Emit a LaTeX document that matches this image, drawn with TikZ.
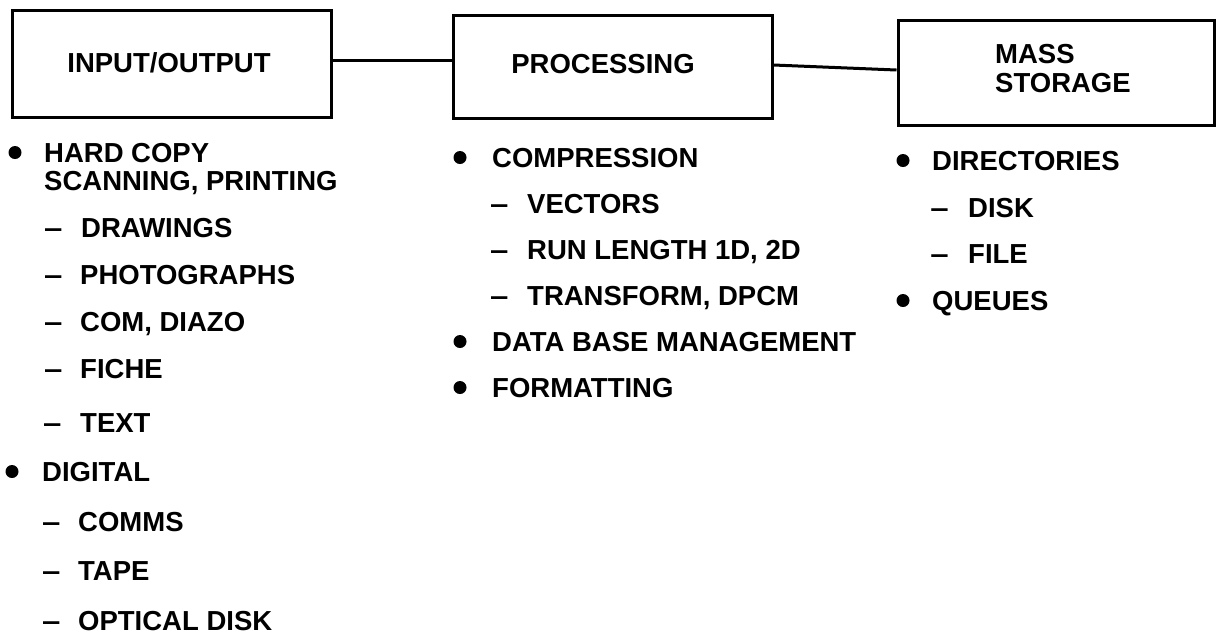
\documentclass[tikz,border=0pt]{standalone}
\usepackage{fontspec}
\setmainfont{Liberation Sans}
\begin{document}
\begin{tikzpicture}[x=1pt,y=-1pt,
  boxst/.style={draw, line width=3pt, inner sep=0pt},
  txt/.style={anchor=base west, inner sep=0pt, font=\fontsize{27.5}{33}\selectfont\bfseries},
  ctxt/.style={anchor=base, inner sep=0pt, font=\fontsize{27.5}{33}\selectfont\bfseries},
  dashst/.style={anchor=base west, inner sep=0pt, font=\fontsize{27.5}{33}\selectfont\bfseries, xscale=1.2},
  dotst/.style={circle, fill, inner sep=0pt, minimum size=13pt},
  link/.style={line width=3pt}]
\useasboundingbox (0,0) rectangle (1217,641);
% boxes
\node[boxst, minimum width=319pt, minimum height=107pt] (b1) at (171.5,63.5) {};
\node[boxst, minimum width=319pt, minimum height=103pt] (b2) at (612.5,66.5) {};
\node[boxst, minimum width=316pt, minimum height=105pt] (b3) at (1056,72.5) {};
\node[ctxt] (t1) at (169,72) {INPUT/OUTPUT};
\node[ctxt] (t2) at (603,73) {PROCESSING};
\node[txt] (t3a) at (995,63) {MASS};
\node[txt] (t3b) at (995,92) {STORAGE};
% connectors
\draw[link] ([yshift=3.5pt]b1.east) -- ([yshift=6.5pt]b2.west);
\draw[link] ([yshift=1.5pt]b2.east) -- ([yshift=2.5pt]b3.west);
% left column
\node[dotst] (d1) at (15,152.5) {};
\node[txt] (l1) at (44,162) {HARD COPY};
\node[txt] (l2) at (44,190) {SCANNING, PRINTING};
\node[dashst] (m1) at (44,237) {–};
\node[txt] (l3) at (81,237) {DRAWINGS};
\node[dashst] (m2) at (44,284) {–};
\node[txt] (l4) at (80,284) {PHOTOGRAPHS};
\node[dashst] (m3) at (44,331) {–};
\node[txt] (l5) at (80,331) {COM, DIAZO};
\node[dashst] (m4) at (44,378) {–};
\node[txt] (l6) at (80,378) {FICHE};
\node[dashst] (m5) at (43,432) {–};
\node[txt] (l7) at (80,432) {TEXT};
\node[dotst] (d2) at (12,471.5) {};
\node[txt] (l8) at (42,481) {DIGITAL};
\node[dashst] (m6) at (42,531) {–};
\node[txt] (l9) at (78,531) {COMMS};
\node[dashst] (m7) at (42,580) {–};
\node[txt] (l10) at (78,580) {TAPE};
\node[dashst] (m8) at (42,630) {–};
\node[txt] (l11) at (78,630) {OPTICAL DISK};
% middle column
\node[dotst] (d3) at (460,157.5) {};
\node[txt] (c1) at (492,167) {COMPRESSION};
\node[dashst] (n1) at (490,213) {–};
\node[txt] (c2) at (527,213) {VECTORS};
\node[dashst] (n2) at (490,259) {–};
\node[txt] (c3) at (527,259) {RUN LENGTH 1D, 2D};
\node[dashst] (n3) at (490,305) {–};
\node[txt] (c4) at (527,305) {TRANSFORM, DPCM};
\node[dotst] (d4) at (460,341.5) {};
\node[txt] (c5) at (492,351) {DATA BASE MANAGEMENT};
\node[dotst] (d5) at (460,387.5) {};
\node[txt] (c6) at (492,397) {FORMATTING};
% right column
\node[dotst] (d6) at (903,160.5) {};
\node[txt] (r1) at (932,170) {DIRECTORIES};
\node[dashst] (o1) at (930,217) {–};
\node[txt] (r2) at (968,217) {DISK};
\node[dashst] (o2) at (930,263) {–};
\node[txt] (r3) at (968,263) {FILE};
\node[dotst] (d7) at (903,300.5) {};
\node[txt] (r4) at (932,310) {QUEUES};
\end{tikzpicture}
\end{document}
